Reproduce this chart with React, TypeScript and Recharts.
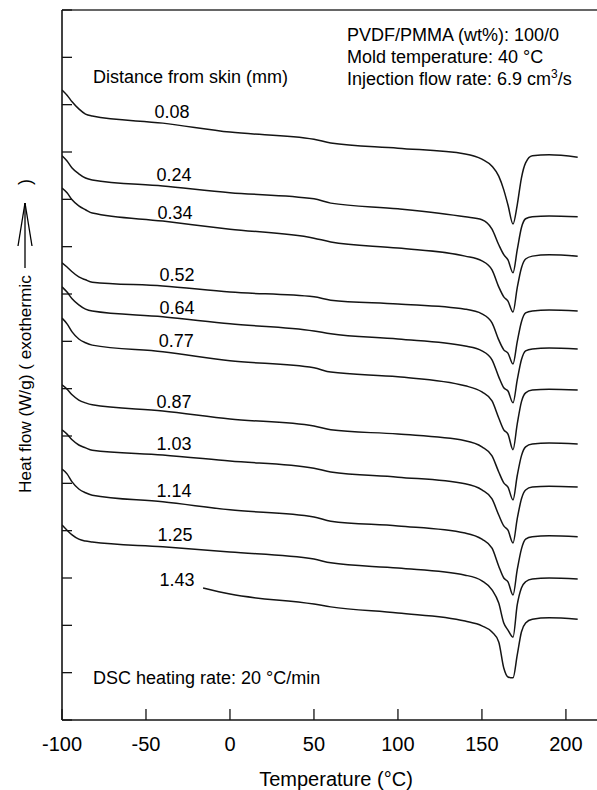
import React from 'react';
import { LineChart, Line, XAxis, YAxis, ReferenceLine, ReferenceDot } from 'recharts';

// Temperature grid (°C) shared by the curves
const T_GRID = [-100, -97, -94, -90, -86, -82, -40, 0, 50, 60, 100, 140, 150, 156, 160, 163, 165.5, 168.5, 171, 173.5, 176, 180, 190, 207];
const T_GRID_143 = [-16, 0, 50, 60, 100, 140, 150, 156, 160, 163, 165.5, 168.5, 171, 173.5, 176, 180, 190, 207];

// Heat flow (offset, arbitrary units: one axis tick = 1)
const HF_008 = [13.31, 13.2, 13.06, 12.91, 12.8, 12.76, 12.61, 12.42, 12.27, 12.19, 12.08, 11.96, 11.85, 11.7, 11.49, 11.2, 10.88, 10.48, 10.88, 11.45, 11.77, 11.92, 11.94, 11.89];
const HF_024 = [11.92, 11.81, 11.66, 11.54, 11.45, 11.41, 11.28, 11.14, 11.01, 10.92, 10.8, 10.63, 10.57, 10.37, 10.04, 9.83, 9.72, 9.45, 9.93, 10.4, 10.59, 10.63, 10.65, 10.63];
const HF_034 = [11.24, 11.14, 10.99, 10.86, 10.78, 10.71, 10.54, 10.37, 10.18, 10.1, 9.97, 9.8, 9.7, 9.51, 9.15, 8.94, 8.85, 8.62, 9.13, 9.55, 9.74, 9.8, 9.83, 9.8];
const HF_052 = [9.66, 9.57, 9.47, 9.36, 9.3, 9.25, 9.17, 9.04, 8.94, 8.87, 8.79, 8.68, 8.58, 8.39, 8.03, 7.82, 7.75, 7.52, 7.99, 8.41, 8.6, 8.64, 8.66, 8.64];
const HF_064 = [9.15, 9.04, 8.9, 8.77, 8.68, 8.64, 8.52, 8.37, 8.22, 8.16, 8.05, 7.9, 7.8, 7.61, 7.25, 7.02, 6.95, 6.7, 7.18, 7.61, 7.8, 7.84, 7.86, 7.84];
const HF_077 = [8.49, 8.37, 8.2, 8.05, 7.97, 7.92, 7.78, 7.59, 7.44, 7.35, 7.25, 7.06, 6.93, 6.74, 6.38, 6.13, 6.04, 5.71, 6.25, 6.72, 6.91, 6.97, 6.99, 6.97];
const HF_087 = [7.08, 6.99, 6.87, 6.76, 6.7, 6.66, 6.53, 6.36, 6.21, 6.13, 6.04, 5.9, 5.77, 5.58, 5.24, 5.01, 4.92, 4.65, 5.16, 5.58, 5.77, 5.83, 5.85, 5.83];
const HF_103 = [6.13, 6.04, 5.92, 5.81, 5.75, 5.7, 5.6, 5.47, 5.32, 5.24, 5.13, 4.99, 4.86, 4.67, 4.33, 4.1, 4.01, 3.74, 4.25, 4.67, 4.86, 4.92, 4.94, 4.92];
const HF_114 = [5.3, 5.2, 5.03, 4.88, 4.8, 4.75, 4.61, 4.44, 4.29, 4.2, 4.1, 3.95, 3.82, 3.63, 3.25, 3.0, 2.92, 2.64, 3.17, 3.61, 3.82, 3.87, 3.89, 3.87];
const HF_125 = [4.12, 4.01, 3.91, 3.82, 3.78, 3.76, 3.66, 3.55, 3.4, 3.32, 3.21, 3.06, 2.94, 2.75, 2.47, 2.05, 1.9, 1.75, 2.43, 2.79, 2.92, 2.98, 3.0, 2.98];
const HF_143 = [2.79, 2.66, 2.45, 2.39, 2.26, 2.09, 1.99, 1.86, 1.65, 1.1, 0.91, 0.89, 1.37, 1.86, 2.05, 2.13, 2.16, 2.13];

// Distance-from-skin labels (mm) and where they sit (T, heat flow)
const DIST_LABELS = ['0.08', '0.24', '0.34', '0.52', '0.64', '0.77', '0.87', '1.03', '1.14', '1.25', '1.43'];
const LABEL_T = [-34.5, -33.3, -32.7, -31.5, -31.5, -32, -33.3, -33.3, -33.3, -32.7, -31.5];
const LABEL_V = [12.85, 11.52, 10.71, 9.4, 8.71, 8.01, 6.72, 5.83, 4.84, 3.91, 2.96];

const X_TICKS = [-100, -50, 0, 50, 100, 150, 200];
const Y_TICKS = [0, 1, 2, 3, 4, 5, 6, 7, 8, 9, 10, 11, 12, 13, 14, 15];

const CURVES = [
  { temps: T_GRID, values: HF_008 },
  { temps: T_GRID, values: HF_024 },
  { temps: T_GRID, values: HF_034 },
  { temps: T_GRID, values: HF_052 },
  { temps: T_GRID, values: HF_064 },
  { temps: T_GRID, values: HF_077 },
  { temps: T_GRID, values: HF_087 },
  { temps: T_GRID, values: HF_103 },
  { temps: T_GRID, values: HF_114 },
  { temps: T_GRID, values: HF_125 },
  { temps: T_GRID_143, values: HF_143 },
];

const FONT = '"Liberation Sans", Arial, Helvetica, sans-serif';
const INK = '#141414';

export default function App() {
  return (
    <div style={{ position: 'absolute', left: 0, top: 0, width: 597, height: 790, background: '#fff' }}>
      <LineChart
        width={597}
        height={790}
        margin={{ top: 10, right: 0, bottom: 0, left: 0 }}
        style={{ fontFamily: FONT }}
      >
        <XAxis
          type="number"
          dataKey="t"
          domain={[-100, 218.5]}
          ticks={X_TICKS}
          allowDataOverflow
          height={70}
          tickSize={-11}
          tickMargin={28}
          tick={{ fontSize: 20, fill: '#000' }}
          axisLine={{ stroke: INK, strokeWidth: 1.6 }}
          tickLine={{ stroke: INK, strokeWidth: 1.3 }}
        />
        <YAxis
          type="number"
          dataKey="v"
          domain={[0, 15]}
          ticks={Y_TICKS}
          allowDataOverflow
          width={62}
          tickFormatter={() => ''}
          tick={{ fontSize: 1, fill: 'none' }}
          tickSize={-10}
          axisLine={{ stroke: INK, strokeWidth: 1.6 }}
          tickLine={{ stroke: INK, strokeWidth: 1.3 }}
        />
        <ReferenceLine y={15} stroke="#333" strokeWidth={1.6} ifOverflow="visible" />
        {CURVES.map((c, i) => (
          <Line
            key={DIST_LABELS[i]}
            data={c.temps.map((t, j) => ({ t, v: c.values[j] }))}
            dataKey="v"
            type="monotone"
            stroke={INK}
            strokeWidth={1.5}
            dot={false}
            activeDot={false}
            isAnimationActive={false}
          />
        ))}
        {DIST_LABELS.map((lab, i) => (
          <ReferenceDot
            key={'lab' + lab}
            x={LABEL_T[i]}
            y={LABEL_V[i]}
            r={0}
            fill="none"
            stroke="none"
            label={{ value: lab, position: 'center', fontSize: 18, fill: '#000' }}
          />
        ))}
      </LineChart>
      <svg
        width={597}
        height={790}
        style={{ position: 'absolute', left: 0, top: 0, pointerEvents: 'none', fontFamily: FONT }}
      >
        <text x={93} y={83} fontSize={18} fill="#000">Distance from skin (mm)</text>
        <text x={347} y={41} fontSize={18} fill="#000">PVDF/PMMA (wt%): 100/0</text>
        <text x={347} y={63} fontSize={18} fill="#000">Mold temperature: 40 °C</text>
        <text x={347} y={85} fontSize={18} fill="#000">
          Injection flow rate: 6.9 cm<tspan fontSize={12} dy={-7}>3</tspan><tspan dy={7}>/s</tspan>
        </text>
        <text x={93} y={684} fontSize={18} fill="#000">DSC heating rate: 20 °C/min</text>
        <text x={336} y={786} fontSize={20} fill="#000" textAnchor="middle">Temperature (°C)</text>
        <text x={0} y={0} fontSize={17.2} fill="#000" transform="translate(31,493) rotate(-90)">
          Heat flow (W/g) ( exothermic
        </text>
        <text x={0} y={0} fontSize={18} fill="#000" textAnchor="middle" transform="translate(31,182) rotate(-90)">
          )
        </text>
        <line x1={25} y1={268} x2={25} y2={203} stroke="#000" strokeWidth={1.3} />
        <line x1={25} y1={203} x2={18} y2={246} stroke="#000" strokeWidth={1.3} />
        <line x1={25} y1={203} x2={32} y2={246} stroke="#000" strokeWidth={1.3} />
      </svg>
    </div>
  );
}
